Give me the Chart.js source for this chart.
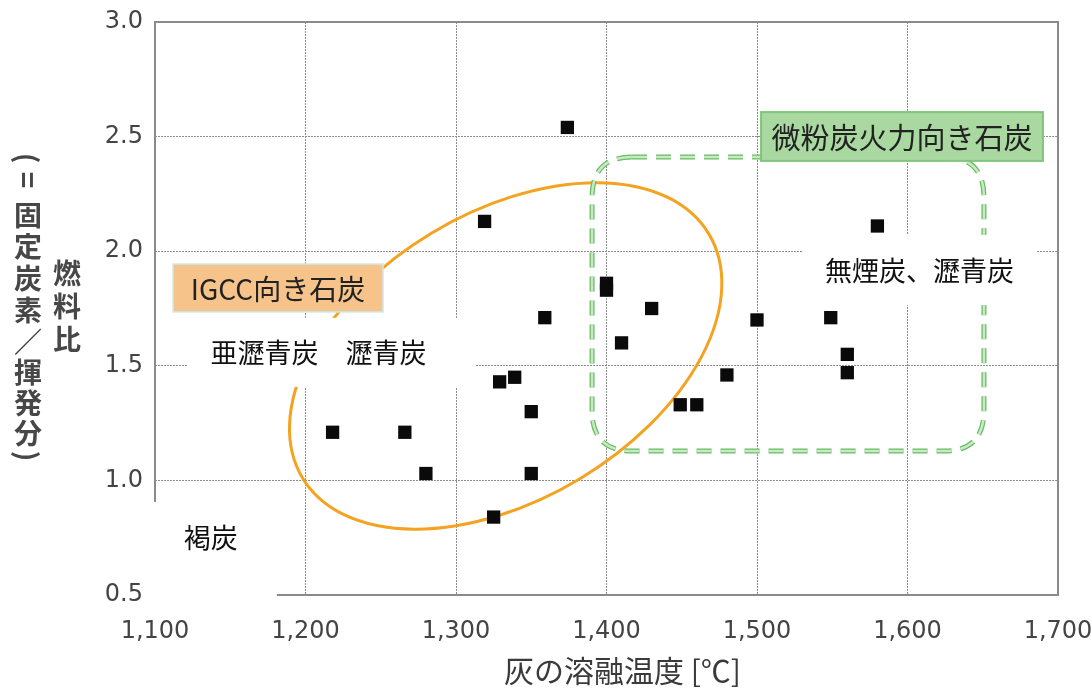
<!DOCTYPE html>
<html lang="ja">
<head>
<meta charset="UTF-8">
<title>灰の溶融温度と燃料比</title>
<script src="https://cdn.jsdelivr.net/npm/chart.js"></script>
<style>
  html, body { margin: 0; padding: 0; background: #fff; }
  #wrap { width: 1091px; height: 690px; position: relative; }
</style>
</head>
<body>
<div id="wrap"><canvas id="coalChart"></canvas></div>
<script>
  // 灰の溶融温度 [℃]
  const meltTemp  = [1218, 1266, 1280, 1319, 1374, 1325, 1329, 1339, 1350, 1350, 1359, 1400, 1400, 1430, 1410, 1449, 1460, 1480, 1500, 1549, 1560, 1560, 1580];
  // 燃料比
  const fuelRatio = [1.21, 1.21, 1.03, 2.13, 2.54, 0.84, 1.43, 1.45, 1.30, 1.03, 1.71, 1.86, 1.83, 1.75, 1.60, 1.33, 1.33, 1.46, 1.70, 1.71, 1.55, 1.47, 2.11];

  const xRange = [1100, 1700, 100];
  const yRange = [0.5, 3.0, 0.5];

  const xTitle = '灰の溶融温度 [℃]';
  const yTitleMain = ['燃', '料', '比'];
  const yTitleSub = ['(', '=', '固', '定', '炭', '素', '／', '揮', '発', '分', ')'];

  const igccLabel = 'IGCC向き石炭';
  const pcLabel = '微粉炭火力向き石炭';
  const rankLow = '亜瀝青炭　瀝青炭';
  const rankHigh = '無煙炭、瀝青炭';
  const rankLignite = '褐炭';

  const points = meltTemp.map((t, i) => ({ x: t, y: fuelRatio[i] }));

  const CJK = '"Noto Sans CJK JP", "Noto Sans", sans-serif';

  function labelBox(ctx, x1, y1, x2, y2, fill, stroke, lw) {
    ctx.fillStyle = fill;
    ctx.fillRect(x1, y1, x2 - x1, y2 - y1);
    if (stroke) {
      ctx.strokeStyle = stroke;
      ctx.lineWidth = lw;
      ctx.strokeRect(x1, y1, x2 - x1, y2 - y1);
    }
  }

  function roundRectPath(ctx, l, t, r, b, rad) {
    ctx.beginPath();
    ctx.moveTo(l + rad, t);
    ctx.lineTo(r - rad, t);
    ctx.quadraticCurveTo(r, t, r, t + rad);
    ctx.lineTo(r, b - rad);
    ctx.quadraticCurveTo(r, b, r - rad, b);
    ctx.lineTo(l + rad, b);
    ctx.quadraticCurveTo(l, b, l, b - rad);
    ctx.lineTo(l, t + rad);
    ctx.quadraticCurveTo(l, t, l + rad, t);
    ctx.closePath();
  }

  const overlay = {
    id: 'overlay',
    beforeDatasetsDraw(chart) {
      const { ctx, chartArea: a, scales: { x, y } } = chart;
      const px = v => x.getPixelForValue(v);
      const py = v => y.getPixelForValue(v);
      ctx.save();

      // frame
      ctx.strokeStyle = '#8a8a8a';
      ctx.lineWidth = 2;
      ctx.strokeRect(a.left, a.top, a.right - a.left, a.bottom - a.top);

      // IGCC ellipse
      ctx.beginPath();
      ctx.ellipse(px(1333), py(1.543), 237, 143.5, -31 * Math.PI / 180, 0, Math.PI * 2);
      ctx.strokeStyle = '#f4a321';
      ctx.lineWidth = 3;
      ctx.stroke();

      // pulverized-coal region (dashed)
      roundRectPath(ctx, px(1390.4), py(2.411), px(1650.8), py(1.128), 40);
      ctx.setLineDash([15, 9]);
      ctx.strokeStyle = '#66bd63';
      ctx.lineWidth = 5;
      ctx.stroke();
      ctx.strokeStyle = '#c8e9c3';
      ctx.lineWidth = 2.5;
      ctx.stroke();
      ctx.setLineDash([]);

      // white label areas
      ctx.textAlign = 'center';
      ctx.textBaseline = 'middle';
      labelBox(ctx, px(1121.3), py(1.709), px(1313.3), py(1.408), '#fff');
      labelBox(ctx, px(1529.9), py(2.071), px(1686), py(1.765), '#fff');
      labelBox(ctx, px(1096.7), py(0.906), px(1181), py(0.456), '#fff');
      ctx.fillStyle = '#111';
      ctx.font = '27px ' + CJK;
      ctx.fillText(rankLow, px(1208.6), py(1.556));
      ctx.fillText(rankHigh, px(1608), py(1.914));
      ctx.fillText(rankLignite, px(1137), py(0.749));

      // IGCC label
      labelBox(ctx, px(1112), py(1.944), px(1251.5), py(1.735), '#f6c38a', '#cfe8e8', 1.5);
      ctx.fillStyle = '#222';
      ctx.font = '28px ' + CJK;
      ctx.fillText(igccLabel, (px(1112) + px(1251.5)) / 2, (py(1.944) + py(1.735)) / 2 + 1);

      // pulverized-coal label
      labelBox(ctx, px(1502.7), py(2.607), px(1690), py(2.394), '#a9d8a1', '#80c57c', 2);
      ctx.fillStyle = '#222';
      ctx.font = '29px ' + CJK;
      ctx.fillText(pcLabel, (px(1502.7) + px(1690)) / 2, (py(2.607) + py(2.394)) / 2 + 1);

      ctx.restore();
    },
    afterDraw(chart) {
      const { ctx, chartArea: a } = chart;
      ctx.save();
      ctx.fillStyle = '#3a3a3a';
      ctx.textAlign = 'center';
      ctx.textBaseline = 'middle';
      ctx.font = '30px ' + CJK;
      ctx.fillText(xTitle, (a.left + a.right) / 2 + 16, 671);

      // vertical (tategaki) y title, two columns
      ctx.font = 'bold 28px ' + CJK;
      ctx.fillStyle = '#474747';
      yTitleMain.forEach((ch, i) => ctx.fillText(ch, 67, 273 + i * 33));
      const subY = [158, 180, 215, 246, 278, 310, 342, 372, 403, 433, 456];
      yTitleSub.forEach((ch, i) => {
        if ('(=)'.includes(ch)) {
          ctx.save();
          ctx.translate(28, subY[i]);
          ctx.rotate(Math.PI / 2);
          ctx.fillText(ch, 0, 0);
          ctx.restore();
        } else {
          ctx.fillText(ch, 28, subY[i]);
        }
      });
      ctx.restore();
    }
  };

  const edge = (c, lo, hi) => (c.tick && (c.tick.value === lo || c.tick.value === hi)) ? 'rgba(0,0,0,0)' : '#8c8c8c';

  new Chart(document.getElementById('coalChart'), {
    type: 'scatter',
    data: {
      datasets: [{
        data: points,
        pointStyle: 'rect',
        pointRadius: 9.4,
        pointHoverRadius: 9.4,
        backgroundColor: '#0a0a0a',
        borderWidth: 0
      }]
    },
    options: {
      responsive: true,
      maintainAspectRatio: false,
      animation: false,
      layout: { padding: { left: 0, right: 33, top: 22, bottom: 0 } },
      plugins: { legend: { display: false }, tooltip: { enabled: false } },
      scales: {
        x: {
          type: 'linear',
          min: xRange[0], max: xRange[1],
          afterFit: s => { s.height = 95; s.paddingLeft = 0; s.paddingRight = 0; },
          border: { display: false, dash: [2, 1] },
          grid: { color: c => edge(c, xRange[0], xRange[1]), lineWidth: 1, drawTicks: false },
          ticks: {
            stepSize: xRange[2],
            padding: 22,
            color: '#444',
            font: { family: '"DejaVu Sans"', size: 24 },
            maxRotation: 0,
            callback: v => v.toLocaleString('en-US')
          }
        },
        y: {
          min: yRange[0], max: yRange[1],
          afterFit: s => { s.width = 155; s.paddingTop = 0; s.paddingBottom = 0; },
          border: { display: false, dash: [2, 1] },
          grid: { color: c => edge(c, yRange[0], yRange[1]), lineWidth: 1, drawTicks: false },
          ticks: {
            stepSize: yRange[2],
            padding: 12,
            color: '#444',
            font: { family: '"DejaVu Sans"', size: 24 },
            callback: v => v.toFixed(1)
          }
        }
      }
    },
    plugins: [overlay]
  });
</script>
</body>
</html>
